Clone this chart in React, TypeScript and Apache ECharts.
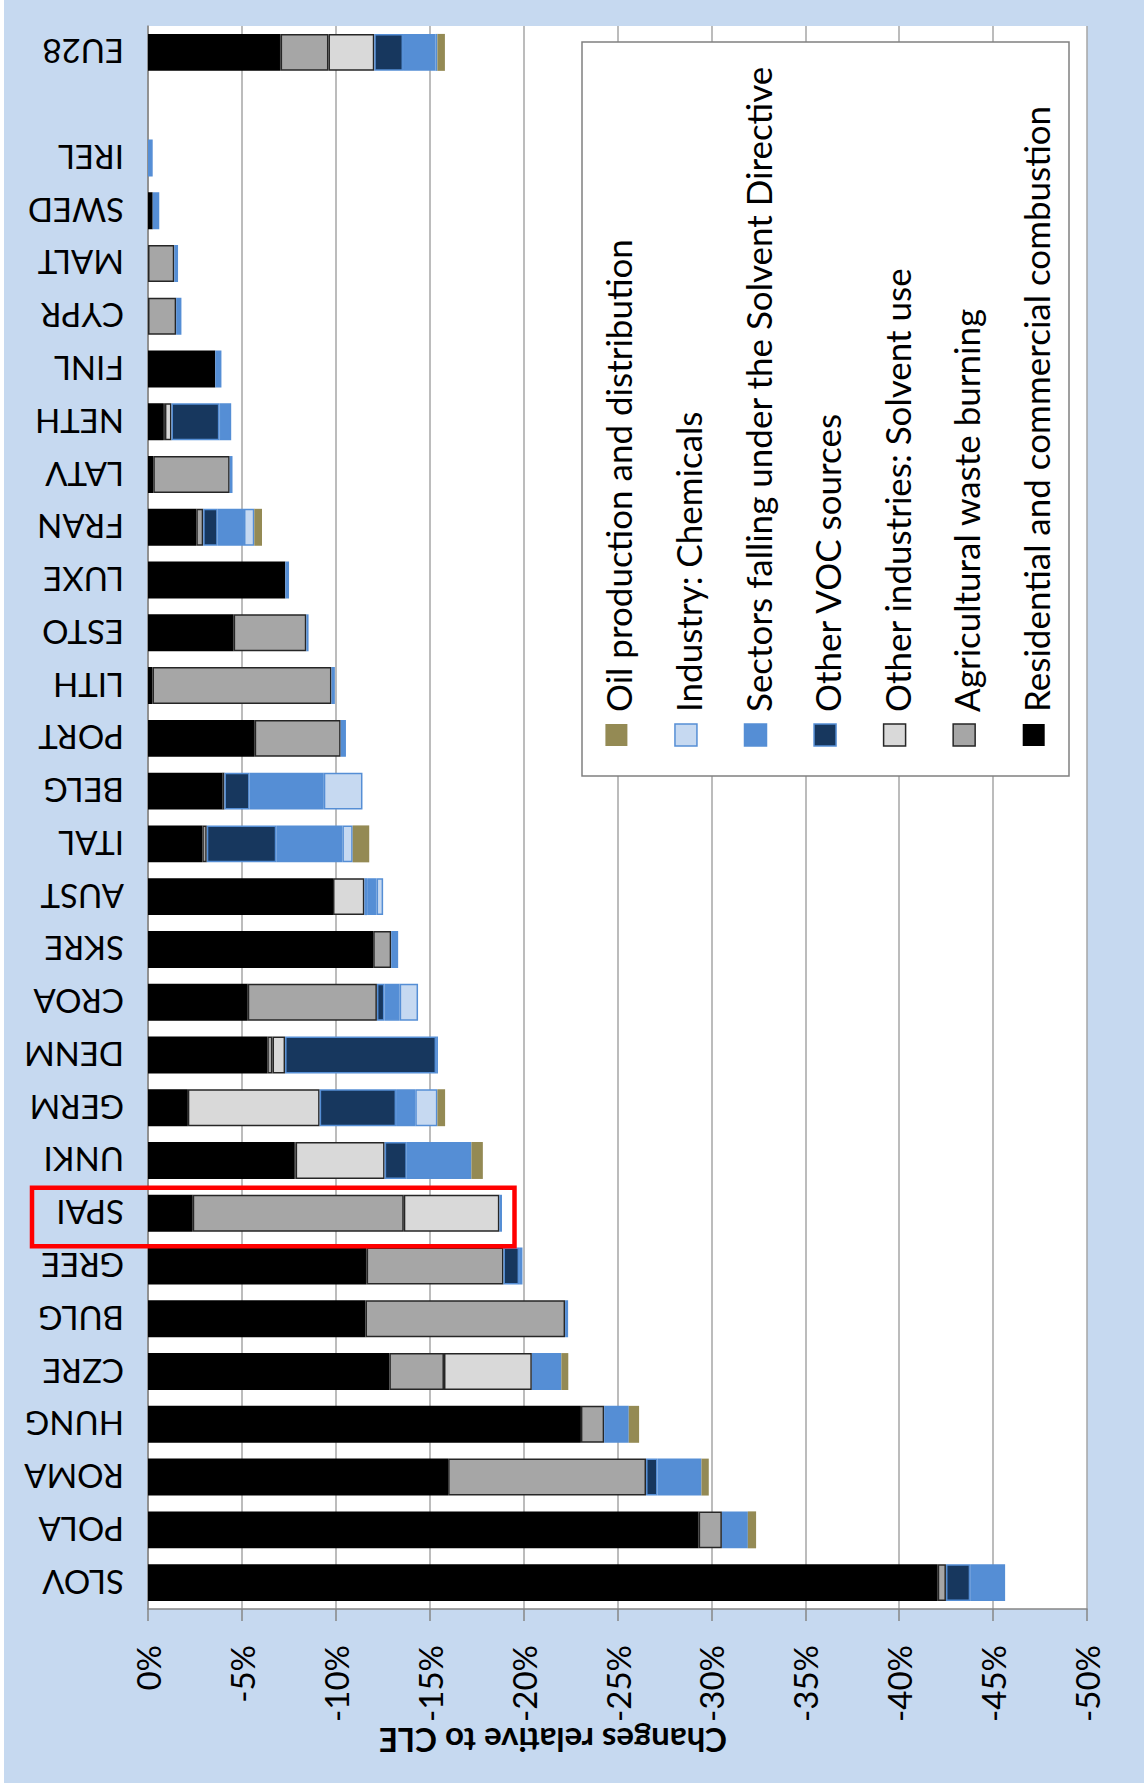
import React, { useEffect, useRef } from 'react';
import * as echarts from 'echarts';

// Categories listed bottom -> top
const categories = ['SLOV', 'POLA', 'ROMA', 'HUNG', 'CZRE', 'BULG', 'GREE', 'SPAI', 'UNKI', 'GERM', 'DENM', 'CROA', 'SKRE', 'AUST', 'ITAL', 'BELG', 'PORT', 'LITH', 'ESTO', 'LUXE', 'FRAN', 'LATV', 'NETH', 'FINL', 'CYPR', 'MALT', 'SWED', 'IREL', '', 'EU28'];

const residential = [-42.05, -29.32, -15.98, -23.05, -12.85, -11.58, -11.64, -2.38, -7.78, -2.12, -6.35, -5.31, -11.99, -9.85, -2.89, -3.95, -5.68, -0.24, -4.56, -7.31, -2.57, -0.28, -0.8, -3.58, 0, 0, -0.25, 0, 0, -7.06];
const agricultural = [-0.44, -1.24, -10.54, -1.24, -2.91, -10.63, -7.29, -11.24, -0.08, 0, -0.28, -6.88, -0.96, 0, -0.24, -0.12, -4.58, -9.53, -3.87, 0, -0.37, -4.07, -0.1, 0, -1.5, -1.4, 0, 0, 0, -2.55];
const otherIndSolvent = [0, 0, 0, 0, -4.68, 0, 0, -5.09, -4.74, -7.02, -0.67, 0, 0, -1.67, 0, 0, 0, 0, 0, 0, 0, 0, -0.35, 0, 0, 0, 0, 0, 0, -2.44];
const otherVoc = [-1.29, 0, -0.61, 0, 0, 0, -0.83, 0, -1.18, -4.07, -8.04, -0.4, 0, -0.15, -3.7, -1.34, 0, 0, 0, 0, -0.77, 0, -2.55, 0, 0, 0, 0, 0, 0, -1.53];
const solventDirective = [-1.86, -1.38, -2.34, -1.31, -1.57, -0.16, -0.18, -0.14, -3.44, -1.02, -0.1, -0.81, -0.37, -0.5, -3.52, -3.95, -0.28, -0.18, -0.12, -0.2, -1.4, -0.15, -0.63, -0.33, -0.28, -0.2, -0.35, -0.25, 0, -1.73];
const chemicals = [0, 0, 0, 0, 0, 0, 0, 0, 0, -1.18, 0, -0.98, 0, -0.35, -0.55, -2.06, 0, 0, 0, 0, -0.55, 0, 0, 0, 0, 0, 0, 0, 0, -0.1];
const oilProduction = [0, -0.44, -0.39, -0.55, -0.37, 0, 0, 0, -0.61, -0.41, 0, 0, 0, 0, -0.88, 0, 0, 0, 0, 0, -0.41, 0, 0, 0, 0, 0, 0, 0, 0, -0.4];

const seriesNames = [
  'Residential and commercial combustion',
  'Agricultural waste burning',
  'Other industries: Solvent use',
  'Other VOC sources',
  'Sectors falling under the Solvent Directive',
  'Industry: Chemicals',
  'Oil production and distribution',
];
const seriesData = [residential, agricultural, otherIndSolvent, otherVoc, solventDirective, chemicals, oilProduction];
const fills = ['#000000', '#A6A6A6', '#D9D9D9', '#17375E', '#558ED5', '#C6D9F1', '#948A54'];
const borders = ['#000000', '#262626', '#262626', '#558ED5', '#558ED5', '#558ED5', '#948A54'];

// legend order left -> right
const legendOrder = [6, 5, 4, 3, 2, 1, 0];

const axisTitle = 'Changes relative to CLE';
const highlighted = 'SPAI';

export default function App() {
  const ref = useRef<HTMLDivElement>(null);
  useEffect(() => {
    const chart = echarts.init(ref.current as HTMLDivElement, null, { renderer: 'svg' });
    const FONT = 'Lato';

    const legendGraphics: any[] = [
      {
        type: 'rect',
        shape: { x: 582, y: 42, width: 487, height: 734 },
        style: { fill: '#FFFFFF', stroke: '#808080', lineWidth: 1.5 },
        z: 50,
      },
    ];
    legendOrder.forEach((si, i) => {
      const cx = 616.4 + i * 69.55;
      legendGraphics.push({
        type: 'rect',
        shape: { x: cx - 11, y: 724, width: 22, height: 22 },
        style: { fill: fills[si], stroke: borders[si], lineWidth: si === 0 || si === 6 ? 0 : 1.5 },
        z: 51,
      });
      legendGraphics.push({
        type: 'text',
        x: cx + 2,
        y: 712,
        rotation: Math.PI / 2,
        style: { text: seriesNames[si], fontSize: 35, fontFamily: FONT, fill: '#000', align: 'left', verticalAlign: 'middle' },
        z: 51,
      });
    });

    const hiIdx = categories.indexOf(highlighted);

    const option: any = {
      animation: false,
      backgroundColor: '#C6D9F0',
      grid: { left: 148, top: 26, width: 939, height: 1583, show: true, backgroundColor: '#FFFFFF', borderWidth: 0 },
      xAxis: {
        type: 'value',
        min: -50,
        max: 0,
        interval: 5,
        inverse: true,
        position: 'bottom',
        axisLine: { show: true, lineStyle: { color: '#868686', width: 1.5 } },
        axisTick: { show: true, length: 12, lineStyle: { color: '#868686', width: 1.5 } },
        splitLine: { show: true, lineStyle: { color: '#A6A6A6', width: 1.5 } },
        axisLabel: {
          rotate: 90,
          margin: 36,
          align: 'right',
          verticalAlign: 'middle',
          fontSize: 33,
          fontFamily: FONT,
          color: '#000',
          formatter: (v: number) => `${v}%`,
        },
      },
      yAxis: {
        type: 'category',
        data: categories,
        axisLine: { show: true, lineStyle: { color: '#868686', width: 1.5 } },
        axisTick: { show: false },
        splitLine: { show: false },
        axisLabel: {
          interval: 0,
          rotate: 180,
          align: 'left',
          verticalAlign: 'middle',
          margin: 24,
          fontSize: 33,
          fontFamily: FONT,
          color: '#000',
        },
      },
      series: seriesData.map((arr, si) => ({
        name: seriesNames[si],
        type: 'bar',
        stack: 'total',
        barWidth: '70%',
        data: arr.map((v) => (v === 0 ? null : v)),
        itemStyle: { color: fills[si], borderColor: borders[si], borderWidth: si === 6 ? 0 : 1.5 },
      })),
      graphic: [
        { type: 'rect', shape: { x: 0, y: 0, width: 4, height: 1789 }, style: { fill: '#FFFFFF' }, z: 60 },
        { type: 'rect', shape: { x: 0, y: 1783, width: 1144, height: 6 }, style: { fill: '#FFFFFF' }, z: 60 },
        ...legendGraphics,
        {
          type: 'text',
          x: 553,
          y: 1741,
          rotation: Math.PI,
          style: { text: axisTitle, fontSize: 33, fontWeight: 'bold', fontFamily: FONT, fill: '#000', align: 'center', verticalAlign: 'middle' },
          z: 51,
        },
        {
          type: 'rect',
          shape: { x: 32, y: 1609 - (hiIdx + 1) * (1583 / categories.length) + 1, width: 482.5, height: 58.5 },
          style: { fill: 'none', stroke: '#FF0000', lineWidth: 4.5 },
          z: 70,
        },
      ],
    };
    chart.setOption(option);
    return () => chart.dispose();
  }, []);
  return <div ref={ref} style={{ position: 'absolute', left: 0, top: 0, width: 1144, height: 1789 }} />;
}
